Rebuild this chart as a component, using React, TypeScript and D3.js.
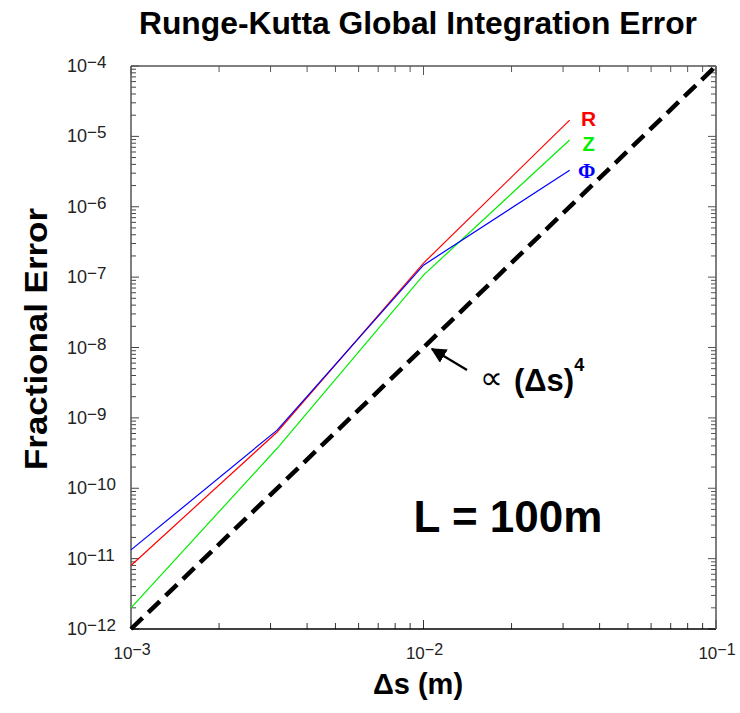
import React, { useEffect, useRef } from "react";
import * as d3 from "d3";

// step sizes (m)
const stepSizes = [1e-3, 3.16e-3, 1e-2, 3.16e-2];
// fractional errors for each coordinate
const errR = [8.0e-12, 6.3e-10, 1.58e-7, 1.7e-5];
const errZ = [2.0e-12, 3.7e-10, 1.07e-7, 8.9e-6];
const errPhi = [1.33e-11, 6.7e-10, 1.48e-7, 3.3e-6];
// reference slope line, error ∝ (Δs)^4
const refX = [1e-3, 1e-1];
const refY = [1e-12, 1e-4];

const xDecades = [-3, -2, -1];
const yDecades = [-12, -11, -10, -9, -8, -7, -6, -5, -4];

const series = [
  { name: "R", values: errR, color: "#ff0000" },
  { name: "Z", values: errZ, color: "#00ee00" },
  { name: "Φ", values: errPhi, color: "#0000ff" },
];

const App = () => {
  const ref = useRef<SVGSVGElement>(null);

  useEffect(() => {
    const svg = d3.select(ref.current);
    svg.selectAll("*").remove();

    const margin = { top: 66, right: 24, bottom: 84, left: 131 };
    const W = 740, H = 713;
    const w = W - margin.left - margin.right;
    const h = H - margin.top - margin.bottom;

    const x = d3.scaleLog().domain([1e-3, 1e-1]).range([0, w]);
    const y = d3.scaleLog().domain([1e-12, 1e-4]).range([h, 0]);

    const g = svg.append("g").attr("transform", `translate(${margin.left},${margin.top})`);
    const font = "'Liberation Sans', Arial, sans-serif";

    // minor/major ticks
    const xTicks: { v: number; major: boolean }[] = [];
    xDecades.forEach((d, i) => {
      xTicks.push({ v: Math.pow(10, d), major: true });
      if (i < xDecades.length - 1) for (let k = 2; k < 10; k++) xTicks.push({ v: k * Math.pow(10, d), major: false });
    });
    const yTicks: { v: number; major: boolean }[] = [];
    yDecades.forEach((d, i) => {
      yTicks.push({ v: Math.pow(10, d), major: true });
      if (i < yDecades.length - 1) for (let k = 2; k < 10; k++) yTicks.push({ v: k * Math.pow(10, d), major: false });
    });

    // x ticks bottom and top
    g.selectAll(".xtb").data(xTicks).enter().append("line")
      .attr("x1", d => x(d.v)).attr("x2", d => x(d.v))
      .attr("y1", h).attr("y2", d => h - (d.major ? 9 : 6))
      .attr("stroke", "#333").attr("stroke-width", 1);
    g.selectAll(".xtt").data(xTicks).enter().append("line")
      .attr("x1", d => x(d.v)).attr("x2", d => x(d.v))
      .attr("y1", 0).attr("y2", d => (d.major ? 9 : 6))
      .attr("stroke", "#555").attr("stroke-width", 1);
    // y ticks left and right
    g.selectAll(".ytl").data(yTicks).enter().append("line")
      .attr("y1", d => y(d.v)).attr("y2", d => y(d.v))
      .attr("x1", 0).attr("x2", d => (d.major ? 8 : 5))
      .attr("stroke", "#444").attr("stroke-width", 1);
    g.selectAll(".ytr").data(yTicks).enter().append("line")
      .attr("y1", d => y(d.v)).attr("y2", d => y(d.v))
      .attr("x1", w).attr("x2", d => w - (d.major ? 8 : 5))
      .attr("stroke", "#555").attr("stroke-width", 1);

    // frame
    g.append("line").attr("x1", 0).attr("x2", w).attr("y1", h).attr("y2", h).attr("stroke", "#000").attr("stroke-width", 1.5);
    g.append("line").attr("x1", 0).attr("x2", 0).attr("y1", 0).attr("y2", h).attr("stroke", "#555").attr("stroke-width", 1.5);
    g.append("line").attr("x1", 0).attr("x2", w).attr("y1", 0).attr("y2", 0).attr("stroke", "#555").attr("stroke-width", 1.5);
    g.append("line").attr("x1", w).attr("x2", w).attr("y1", 0).attr("y2", h).attr("stroke", "#555").attr("stroke-width", 1.5);

    // tick labels
    const ylab = g.selectAll(".ylab").data(yDecades).enter().append("text")
      .attr("x", -64).attr("y", d => y(Math.pow(10, d)) + 6)
      .attr("text-anchor", "start")
      .style("font-family", font).style("font-size", "18px").attr("fill", "#222");
    ylab.append("tspan").text("10");
    ylab.append("tspan").attr("dy", -4).style("font-size", "17px").text(d => `\u2212${-d}`);

    const xlab = g.selectAll(".xlab").data(xDecades).enter().append("text")
      .attr("x", d => x(Math.pow(10, d)) + 1).attr("y", h + 30)
      .attr("text-anchor", "middle")
      .style("font-family", font).style("font-size", "17px").attr("fill", "#222");
    xlab.append("tspan").text("10");
    xlab.append("tspan").attr("dy", -4).style("font-size", "16px").text(d => `\u2212${-d}`);

    // reference line
    const line = d3.line<number>().x((d, i) => x(refX[i])).y(d => y(d));
    g.append("path").datum(refY).attr("d", line)
      .attr("fill", "none").attr("stroke", "#000").attr("stroke-width", 4.5)
      .attr("stroke-dasharray", "16,8");

    // data lines
    const dline = d3.line<number>().x((d, i) => x(stepSizes[i])).y(d => y(d));
    series.forEach(s => {
      g.append("path").datum(s.values).attr("d", dline)
        .attr("fill", "none").attr("stroke", s.color).attr("stroke-width", 1.2);
    });

    // series labels
    const labX = x(stepSizes[stepSizes.length - 1]) + 19;
    g.append("text").attr("x", labX).attr("y", 126 - margin.top).attr("text-anchor", "middle")
      .style("font-family", font).style("font-weight", "bold").style("font-size", "21px")
      .attr("fill", "#ff0000").text("R");
    g.append("text").attr("x", labX).attr("y", 151 - margin.top).attr("text-anchor", "middle")
      .style("font-family", font).style("font-weight", "bold").style("font-size", "20px")
      .attr("fill", "#00ee00").text("Z");
    g.append("text").attr("x", labX - 2).attr("y", 178 - margin.top).attr("text-anchor", "middle")
      .style("font-family", "'Liberation Serif', 'Times New Roman', serif").style("font-weight", "bold")
      .style("font-size", "21px").attr("fill", "#0000ff").text("Φ");

    // arrow annotation
    svg.append("defs").append("marker")
      .attr("id", "ah").attr("viewBox", "0 0 10 10").attr("refX", 9).attr("refY", 5)
      .attr("markerWidth", 7).attr("markerHeight", 7).attr("orient", "auto")
      .append("path").attr("d", "M0,0L10,5L0,10z").attr("fill", "#000");
    svg.append("line").attr("x1", 467).attr("y1", 370).attr("x2", 432).attr("y2", 349)
      .attr("stroke", "#000").attr("stroke-width", 2.2).attr("marker-end", "url(#ah)");
    svg.append("text").attr("x", 480).attr("y", 389)
      .style("font-family", "'DejaVu Sans', sans-serif").style("font-size", "32px").text("∝");
    const prop = svg.append("text").attr("x", 514).attr("y", 391)
      .style("font-family", font).style("font-weight", "bold").style("font-size", "31px");
    prop.append("tspan").text("(Δs)");
    prop.append("tspan").attr("dy", -20).style("font-size", "18px").text("4");

    // L = 100m
    svg.append("text").attr("x", 508).attr("y", 532).attr("text-anchor", "middle")
      .style("font-family", font).style("font-weight", "bold").style("font-size", "44px").text("L = 100m");

    // titles
    svg.append("text").attr("x", 418).attr("y", 34).attr("text-anchor", "middle")
      .attr("textLength", 558).attr("lengthAdjust", "spacingAndGlyphs")
      .style("font-family", font).style("font-weight", "bold").style("font-size", "31px")
      .text("Runge-Kutta Global Integration Error");
    svg.append("text").attr("x", 418).attr("y", 694).attr("text-anchor", "middle")
      .style("font-family", font).style("font-weight", "bold").style("font-size", "29px")
      .text("Δs (m)");
    svg.append("text").attr("transform", "translate(47,339) rotate(-90)").attr("text-anchor", "middle")
      .attr("textLength", 262).attr("lengthAdjust", "spacingAndGlyphs")
      .style("font-family", font).style("font-weight", "bold").style("font-size", "32px")
      .text("Fractional Error");
  }, []);

  return (
    <svg ref={ref} width={740} height={713}
      style={{ position: "absolute", left: 0, top: 0, background: "#fff" }} />
  );
};

export default App;
